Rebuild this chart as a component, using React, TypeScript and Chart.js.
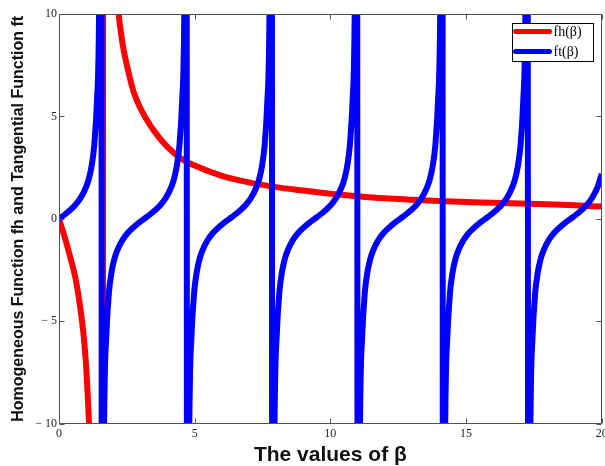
import { useEffect, useRef } from "react";
import { Chart, registerables } from "chart.js";

Chart.register(...registerables);

// fh(β)
const fhBeta = [0, 0.2, 0.4, 0.6, 0.8, 0.9, 1.0, 1.1, 1.2, 1.3, 1.4, 1.5, 1.61, 1.64, 1.7, 1.8, 1.9, 2.0, 2.1, 2.2, 2.35, 2.5, 2.75, 3, 3.5, 4, 4.5, 5, 6, 7, 8, 9, 10, 11, 12, 13, 14, 15, 16, 17, 18, 19, 20];
const fhValue = [0, -0.85, -1.8, -2.85, -4.5, -5.6, -7.2, -9.8, -13.5, -19, -30, -55, -300, 300, 60, 30, 20, 15, 12, 10, 8.5, 7.5, 6.2, 5.4, 4.3, 3.5, 2.95, 2.6, 2.1, 1.78, 1.55, 1.38, 1.22, 1.1, 1.0, 0.93, 0.87, 0.82, 0.79, 0.75, 0.71, 0.66, 0.6];

// ft(β), branch by branch
const ftBeta = [
  0, 0.2, 0.4, 0.6, 0.8, 1.0, 1.1, 1.2, 1.3, 1.4, 1.5, 1.55,
  1.59, 1.64, 1.74, 1.84, 1.94, 2.04, 2.14, 2.34, 2.54, 2.74, 2.94, 3.14, 3.34, 3.54, 3.74, 3.94, 4.14, 4.24, 4.34, 4.44, 4.54, 4.64, 4.69,
  4.73, 4.78, 4.88, 4.98, 5.08, 5.18, 5.28, 5.48, 5.68, 5.88, 6.08, 6.28, 6.48, 6.68, 6.88, 7.08, 7.28, 7.38, 7.48, 7.58, 7.68, 7.78, 7.83,
  7.87, 7.92, 8.02, 8.12, 8.22, 8.32, 8.42, 8.62, 8.82, 9.02, 9.22, 9.42, 9.62, 9.82, 10.02, 10.22, 10.42, 10.52, 10.62, 10.72, 10.82, 10.92, 10.97,
  11.02, 11.07, 11.17, 11.27, 11.37, 11.47, 11.57, 11.77, 11.97, 12.17, 12.37, 12.57, 12.77, 12.97, 13.17, 13.37, 13.57, 13.67, 13.77, 13.87, 13.97, 14.07, 14.12,
  14.16, 14.21, 14.31, 14.41, 14.51, 14.61, 14.71, 14.91, 15.11, 15.31, 15.51, 15.71, 15.91, 16.11, 16.31, 16.51, 16.71, 16.81, 16.91, 17.01, 17.11, 17.21, 17.26,
  17.3, 17.35, 17.45, 17.55, 17.65, 17.75, 17.85, 18.05, 18.25, 18.45, 18.65, 18.85, 19.05, 19.25, 19.45, 19.65, 19.85, 20.0,
];
const ftValue = [
  0, 0.2, 0.42, 0.68, 1.03, 1.56, 1.96, 2.57, 3.6, 5.8, 14.1, 48,
  -48, -14.1, -5.8, -3.6, -2.57, -1.96, -1.56, -1.03, -0.68, -0.42, -0.2, 0, 0.2, 0.42, 0.68, 1.03, 1.56, 1.96, 2.57, 3.6, 5.8, 14.1, 48,
  -48, -14.1, -5.8, -3.6, -2.57, -1.96, -1.56, -1.03, -0.68, -0.42, -0.2, 0, 0.2, 0.42, 0.68, 1.03, 1.56, 1.96, 2.57, 3.6, 5.8, 14.1, 48,
  -48, -14.1, -5.8, -3.6, -2.57, -1.96, -1.56, -1.03, -0.68, -0.42, -0.2, 0, 0.2, 0.42, 0.68, 1.03, 1.56, 1.96, 2.57, 3.6, 5.8, 14.1, 48,
  -48, -14.1, -5.8, -3.6, -2.57, -1.96, -1.56, -1.03, -0.68, -0.42, -0.2, 0, 0.2, 0.42, 0.68, 1.03, 1.56, 1.96, 2.57, 3.6, 5.8, 14.1, 48,
  -48, -14.1, -5.8, -3.6, -2.57, -1.96, -1.56, -1.03, -0.68, -0.42, -0.2, 0, 0.2, 0.42, 0.68, 1.03, 1.56, 1.96, 2.57, 3.6, 5.8, 14.1, 48,
  -48, -14.1, -5.8, -3.6, -2.57, -1.96, -1.56, -1.03, -0.68, -0.42, -0.2, 0, 0.2, 0.42, 0.68, 1.03, 1.56, 2.2,
];

const xTicks = [0, 5, 10, 15, 20];
const yTicks = [-10, -5, 0, 5, 10];
const seriesNames = ["fh(\u03B2)", "ft(\u03B2)"];
const seriesColors = ["#ff0000", "#0000ff"];
const xTitle = "The values of \u03B2";
const yTitle = "Homogeneous Function fh and Tangential Function ft";

const frameColor = "#505050";
const serif = '"Liberation Serif", "Times New Roman", serif';
const sans = '"Liberation Sans", Arial, sans-serif';

const boxPlugin = {
  id: "matlabBox",
  afterDatasetsDraw(chart: any) {
    const { ctx, chartArea: a, scales } = chart;
    ctx.save();
    ctx.strokeStyle = frameColor;
    ctx.lineWidth = 1;
    const l = Math.round(a.left) + 0.5;
    const t = Math.round(a.top) + 0.5;
    const r = Math.round(a.right) - 0.5;
    const b = Math.round(a.bottom) - 0.5;
    ctx.beginPath();
    ctx.rect(l, t, r - l, b - t);
    const tl = 5;
    for (const v of xTicks) {
      const px = Math.round(scales.x.getPixelForValue(v)) + 0.5;
      ctx.moveTo(px, b);
      ctx.lineTo(px, b - tl);
      ctx.moveTo(px, t);
      ctx.lineTo(px, t + tl);
    }
    for (const v of yTicks) {
      const py = Math.round(scales.y.getPixelForValue(v)) + 0.5;
      ctx.moveTo(l, py);
      ctx.lineTo(l + tl, py);
      ctx.moveTo(r, py);
      ctx.lineTo(r - tl, py);
    }
    ctx.stroke();
    ctx.restore();
  },
};

const legendPlugin = {
  id: "boxLegend",
  afterDraw(chart: any) {
    const { ctx, chartArea: a } = chart;
    const w = 81;
    const h = 38;
    const x0 = Math.round(a.right - 9 - w) + 0.5;
    const y0 = Math.round(a.top + 9) + 0.5;
    ctx.save();
    ctx.fillStyle = "#ffffff";
    ctx.fillRect(x0, y0, w, h);
    ctx.strokeStyle = "#000000";
    ctx.lineWidth = 1;
    ctx.strokeRect(x0, y0, w, h);
    seriesNames.forEach((name, i) => {
      const y = y0 + 8 + i * 20;
      ctx.strokeStyle = seriesColors[i];
      ctx.lineWidth = 5;
      ctx.lineCap = "round";
      ctx.beginPath();
      ctx.moveTo(x0 + 3, y);
      ctx.lineTo(x0 + 37, y);
      ctx.stroke();
      ctx.fillStyle = "#000000";
      ctx.font = `14px ${serif}`;
      ctx.textBaseline = "middle";
      ctx.textAlign = "left";
      ctx.fillText(name, x0 + 41, y + 1);
    });
    ctx.restore();
  },
};

export default function App() {
  const ref = useRef<HTMLCanvasElement>(null);
  useEffect(() => {
    if (!ref.current) return;
    const chart = new Chart(ref.current, {
      type: "line",
      data: {
        datasets: [
          {
            label: seriesNames[0],
            data: fhBeta.map((b, i) => ({ x: b, y: fhValue[i] })),
            borderColor: seriesColors[0],
            backgroundColor: seriesColors[0],
            borderWidth: 6,
            pointRadius: 0,
            cubicInterpolationMode: "monotone",
            clip: 0,
            order: 2,
          },
          {
            label: seriesNames[1],
            data: ftBeta.map((b, i) => ({ x: b, y: ftValue[i] })),
            borderColor: seriesColors[1],
            backgroundColor: seriesColors[1],
            borderWidth: 6,
            pointRadius: 0,
            cubicInterpolationMode: "monotone",
            clip: 0,
            order: 1,
          },
        ],
      },
      options: {
        animation: false,
        responsive: false,
        devicePixelRatio: 1,
        layout: { padding: { top: 14, right: 3.3, left: 0, bottom: 0 } },
        plugins: {
          legend: { display: false },
          tooltip: { enabled: false },
        },
        scales: {
          x: {
            type: "linear",
            min: 0,
            max: 20,
            afterBuildTicks: (s: any) => {
              s.ticks = xTicks.map((v) => ({ value: v }));
            },
            afterFit: (s: any) => {
              s.height = 42.3;
              s.paddingLeft = 0;
              s.paddingRight = 0;
            },
            grid: { display: false, drawTicks: false },
            border: { display: false },
            ticks: {
              padding: 3,
              maxRotation: 0,
              autoSkip: false,
              color: "#222",
              font: { family: serif, size: 12 },
            },
            title: {
              display: true,
              text: xTitle,
              color: "#111",
              font: { family: sans, size: 21, weight: "bold", lineHeight: 1 },
              padding: { top: 0, bottom: 0 },
            },
          },
          y: {
            type: "linear",
            min: -10,
            max: 10,
            afterBuildTicks: (s: any) => {
              s.ticks = yTicks.map((v) => ({ value: v }));
            },
            afterFit: (s: any) => {
              s.width = 59;
              s.paddingTop = 0;
              s.paddingBottom = 0;
            },
            grid: { display: false, drawTicks: false },
            border: { display: false },
            ticks: {
              padding: 2,
              autoSkip: false,
              color: "#222",
              font: { family: serif, size: 12 },
              callback: (v: any) => (v < 0 ? "\u2212 " + Math.abs(v) : String(v)),
            },
            title: {
              display: true,
              text: yTitle,
              color: "#111",
              font: { family: sans, size: 16, weight: "bold", lineHeight: 1 },
              padding: { top: 11, bottom: 0 },
            },
          },
        },
      },
      plugins: [boxPlugin, legendPlugin],
    });
    return () => chart.destroy();
  }, []);
  return (
    <div style={{ position: "fixed", left: 0, top: 0, width: 605, height: 466, background: "#fff" }}>
      <canvas ref={ref} width={605} height={466} style={{ display: "block" }} />
    </div>
  );
}
